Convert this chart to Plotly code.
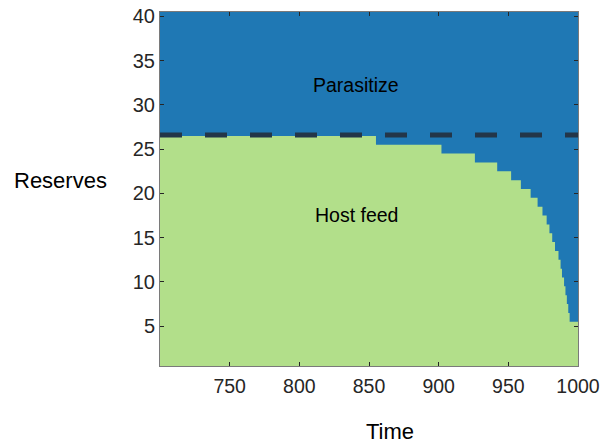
import plotly.graph_objects as go

# Decision boundary: times (start of each step) and the highest reserve level fed on the host
switch_times = [700, 855, 902, 926, 942, 952, 959, 966, 971, 974.5, 977.5, 979.5,
                981.5, 983.5, 986, 987.5, 988.5, 990, 991, 992, 993, 994]
host_feed_max = [26, 25, 24, 23, 22, 21, 20, 19, 18, 17, 16, 15,
                 14, 13, 12, 11, 10, 9, 8, 7, 6, 5]
t_end = 1000
threshold_reserve = 26.6

x_ticks = [750, 800, 850, 900, 950, 1000]
y_ticks = [5, 10, 15, 20, 25, 30, 35, 40]

BLUE = "#1f78b4"
GREEN = "#b2df8a"
FONT = "Liberation Sans, Arial, sans-serif"

xs = switch_times + [t_end]
ys = [v + 0.5 for v in host_feed_max] + [host_feed_max[-1] + 0.5]

fig = go.Figure()
fig.add_trace(go.Scatter(
    x=xs, y=ys, mode="lines", line=dict(width=0, shape="hv", color=GREEN),
    fill="tozeroy", fillcolor=GREEN, hoverinfo="skip", showlegend=False))
fig.add_trace(go.Scatter(
    x=[switch_times[0], t_end], y=[threshold_reserve, threshold_reserve],
    mode="lines", line=dict(color="#233649", width=5, dash="22px,23px"),
    hoverinfo="skip", showlegend=False))

fig.update_layout(
    width=602, height=446,
    margin=dict(l=160, r=24, t=12, b=80),
    paper_bgcolor="white", plot_bgcolor=BLUE,
    font=dict(family=FONT, size=20, color="#262626"),
    showlegend=False,
    xaxis=dict(range=[700, 1000], tickvals=x_ticks, ticks="inside", ticklen=4,
               tickcolor="#262626", showgrid=False, zeroline=False, automargin=False,
               showline=True, linecolor="#7a7a7a", linewidth=1, mirror="ticks",
               ticklabelstandoff=3,
               tickfont=dict(size=19.5, color="#262626")),
    yaxis=dict(range=[0.5, 40.5], tickvals=y_ticks, ticks="inside", ticklen=4,
               tickcolor="#262626", showgrid=False, zeroline=False, automargin=False,
               showline=True, linecolor="#7a7a7a", linewidth=1, mirror="ticks",
               tickfont=dict(size=20, color="#262626")),
    annotations=[
        dict(text="Parasitize", x=841, y=32.2, xref="x", yref="y", showarrow=False,
             font=dict(size=19.5, color="black")),
        dict(text="Host feed", x=841, y=17.6, xref="x", yref="y", showarrow=False,
             font=dict(size=19.5, color="black")),
        dict(text="Reserves", x=-0.239, y=0.525, xref="paper", yref="paper",
             showarrow=False, xanchor="center", yanchor="middle",
             font=dict(size=22, color="black")),
        dict(text="Time", x=0.55, y=-0.186, xref="paper", yref="paper",
             showarrow=False, xanchor="center", yanchor="middle",
             font=dict(size=22, color="black")),
    ],
)

fig.write_html("out.html", config={"displayModeBar": False},
               post_script="document.body.style.margin='0';")
